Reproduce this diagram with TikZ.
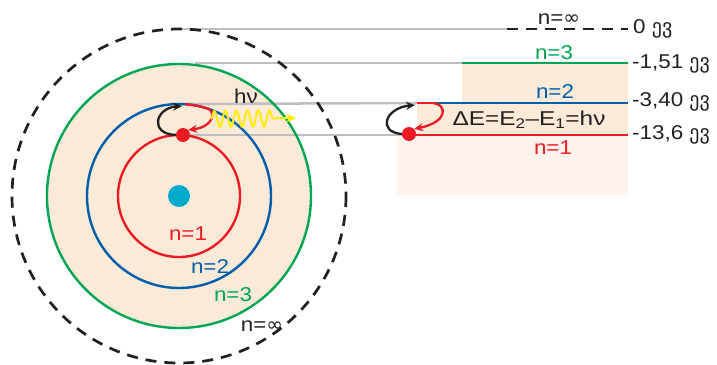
\documentclass[tikz,border=0pt]{standalone}
\usepackage{fontspec}
\setmainfont{Liberation Sans}[FakeStretch=1.12]
\newfontfamily\widefont{Liberation Sans}[FakeStretch=1.22]
\newfontfamily\djvfont{DejaVu Sans}
\usepackage{tikz}
\usetikzlibrary{arrows.meta, decorations.pathmorphing}
\definecolor{OrbRed}{RGB}{237,28,36}
\definecolor{OrbBlue}{RGB}{0,94,170}
\definecolor{OrbGreen}{RGB}{0,166,81}
\definecolor{NucCyan}{RGB}{0,170,205}
\definecolor{Peach}{RGB}{252,234,217}
\definecolor{PeachLt}{RGB}{253,243,236}
\definecolor{LevGray}{RGB}{190,190,195}
\definecolor{PhotYellow}{RGB}{255,238,0}
\definecolor{InkDark}{RGB}{35,31,32}
\newcommand{\ev}{{\djvfont\fontsize{20}{22}\selectfont ევ}}
\newcommand{\ninf}{n={\djvfont ∞}}

\begin{document}
\begin{tikzpicture}[x=1pt, y=-1pt,
    orb/.style={line width=2.4pt},
    lev/.style={draw=LevGray, line width=2.5pt},
    dsh/.style={draw=InkDark, line width=2.7pt, dash pattern=on 11pt off 8pt},
    elec/.style={circle, fill=OrbRed, inner sep=0pt, minimum size=14pt},
    arr/.style={-{Stealth[length=9pt, width=8pt]}, line width=2.3pt},
    lbl/.style={font=\fontsize{20}{22}\selectfont, inner sep=0pt},
    enr/.style={font=\fontsize{20}{22}\selectfont, anchor=west, inner sep=0pt, text=InkDark}
  ]
  \useasboundingbox (0,0) rectangle (717,364);

  % level diagram shading
  \fill[PeachLt] (397,135) rectangle (628,195);
  \fill[Peach] (462,63) -- (628,63) -- (628,135) -- (417,135)
               -- (417,103) -- (462,103) -- cycle;

  % atom
  \coordinate (nuc) at (179,196);
  \fill[Peach] (nuc) circle (132);
  \node[circle, fill=NucCyan, inner sep=0pt, minimum size=22pt] (core) at (nuc) {};

  % level ends
  \coordinate (l0a) at (181,29);  \coordinate (l0b) at (507,29);  \coordinate (l0c) at (628,29);
  \coordinate (l3a) at (195,63);  \coordinate (l3b) at (462,63);  \coordinate (l3c) at (628,63);
  \coordinate (l2a) at (185,104); \coordinate (l2b) at (417,103); \coordinate (l2c) at (628,103);
  \coordinate (l1a) at (190,135); \coordinate (l1b) at (402,135); \coordinate (l1c) at (628,135);
  \coordinate (r2a) at (433,103);

  \draw[lev] (l0a) -- (l0b);
  \draw[lev] (l3a) -- (l3b);
  \draw[lev] (l2a) -- (l2b);
  \draw[lev] (l1a) -- (l1b);

  \draw[dsh] (l0b) -- (l0c);
  \draw[orb, OrbGreen] (l3b) -- (l3c);
  \draw[orb, OrbBlue] (r2a) -- (l2c);
  \draw[orb, OrbRed] (l1b) -- (l1c);
  \draw[orb, OrbRed] (l2b) -- (r2a);

  % orbits
  \draw[orb, OrbRed] (nuc) circle (61);
  \draw[orb, OrbBlue] (nuc) circle (92);
  \draw[orb, OrbGreen] (nuc) circle (132);
  \draw[dsh] (nuc) circle (167);
  \draw[orb, OrbRed] ([shift={(86:92 and -92)}]nuc) arc[start angle=86, end angle=72, x radius=92, y radius=-92];

  % electrons
  \node[elec] (e1) at (183,135) {};
  \node[elec] (e2) at (409,134) {};

  % jumps
  \coordinate (up1) at (182,106);
  \coordinate (rt1) at (207,108);
  \draw[arr, InkDark] (e1.west) .. controls (149,134) and (155,108) .. (up1);
  \draw[arr, OrbRed] (rt1) .. controls (217,112) and (213,127) .. (e1.north east);

  \coordinate (up2) at (415,105);
  \draw[arr, InkDark] (e2.west) .. controls (377,132) and (385,108) .. (up2);
  \draw[arr, OrbRed] (r2a) .. controls (447,104) and (449,122) .. (e2.north east);

  % photon
  \coordinate (ph0) at (211,119);
  \coordinate (ph1) at (296,118);
  \draw[PhotYellow, line width=2pt, decorate,
        decoration={snake, amplitude=8pt, segment length=11pt, post length=20pt},
        -{Stealth[length=10pt, width=9pt]}] (ph0) -- (ph1);
  \node[lbl, text=InkDark] (hnu) at (246,96) {hν};

  % labels in the atom
  \node[lbl, text=OrbRed] (n1) at (188,234) {n=1};
  \node[lbl, text=OrbBlue] (n2) at (210,267) {n=2};
  \node[lbl, text=OrbGreen] (n3) at (233,295) {n=3};
  \node[lbl, text=InkDark] (ninf) at (262,326) {\ninf};

  % labels on the levels
  \node[lbl, text=InkDark] (tinf) at (559,19) {\ninf};
  \node[lbl, text=OrbGreen] (t3) at (554,53) {n=3};
  \node[lbl, text=OrbBlue] (t2) at (555,92) {n=2};
  \node[lbl, text=OrbRed] (t1) at (553,148) {n=1};
  \node[lbl, text=InkDark, font=\widefont\fontsize{20}{22}\selectfont] (de) at (529,120)
       {ΔE=E\textsubscript{2}–E\textsubscript{1}=hν};

  \node[enr] (en0) at (633,29) {0 \ev};
  \node[enr] (en3) at (632,64) {-1,51 \ev};
  \node[enr] (en2) at (632,102) {-3,40 \ev};
  \node[enr] (en1) at (632,135) {-13,6 \ev};
\end{tikzpicture}
\end{document}
